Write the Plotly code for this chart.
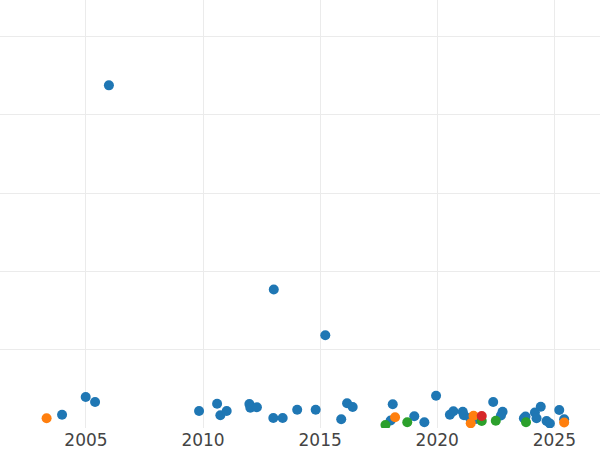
import plotly.graph_objects as go

# Blue series
blue_x = [2003.98, 2004.99, 2005.39, 2005.98, 2009.83, 2010.60, 2010.74, 2011.01,
          2011.98, 2012.02, 2012.30, 2013.00, 2013.40, 2014.02, 2014.81, 2015.90,
          2016.15, 2016.39, 2013.02, 2015.22, 2018.10, 2018.01, 2019.02, 2019.45,
          2019.95, 2020.54, 2020.69, 2021.09, 2021.14, 2021.40, 2021.65, 2022.39,
          2022.79, 2022.72, 2023.70, 2023.77, 2024.17, 2024.42, 2024.24, 2024.67,
          2024.81, 2025.21, 2025.42]
blue_y = [3.40, 7.92, 6.64, 87.5, 4.34, 6.21, 3.24, 4.34,
          6.10, 5.18, 5.29, 2.55, 2.55, 4.67, 4.67, 2.22,
          6.31, 5.36, 35.37, 23.68, 6.05, 1.92, 3.01, 1.46,
          8.22, 3.40, 4.27, 4.16, 3.27, 2.55, 2.30, 6.64,
          4.16, 3.19, 2.48, 2.94, 3.96, 5.44, 2.48, 1.79,
          1.15, 4.60, 2.22]

# Orange series
orange_x = [2003.32, 2018.20, 2021.55, 2021.43, 2025.42]
orange_y = [2.48, 2.73, 3.14, 1.20, 1.40]

# Green series
green_x = [2017.79, 2018.72, 2021.90, 2022.50, 2023.79]
green_y = [0.77, 1.46, 1.79, 1.86, 1.46]

# Red series
red_x = [2021.90]
red_y = [3.06]

x_ticks = [2005, 2010, 2015, 2020, 2025]

fig = go.Figure()
for xs, ys, col in [(blue_x, blue_y, "#1f77b4"), (orange_x, orange_y, "#ff7f0e"),
                    (green_x, green_y, "#2ca02c"), (red_x, red_y, "#d62728")]:
    fig.add_trace(go.Scatter(x=xs, y=ys, mode="markers",
                             marker=dict(color=col, size=10, line=dict(width=0)),
                             showlegend=False))

fig.update_layout(
    width=600, height=450,
    margin=dict(l=0, r=0, t=0, b=22),
    plot_bgcolor="white", paper_bgcolor="white",
    font=dict(family="DejaVu Sans", size=17, color="#444444"),
    showlegend=False,
)
fig.update_xaxes(range=[2001.33, 2026.95], tickvals=x_ticks,
                 ticktext=[str(t) for t in x_ticks],
                 showgrid=True, gridcolor="#ebebeb", gridwidth=1,
                 zeroline=False, showline=False, ticks="")
fig.update_yaxes(range=[0, 109.3], tick0=0, dtick=20,
                 showgrid=True, gridcolor="#ebebeb", gridwidth=1,
                 zeroline=False, showline=False, showticklabels=False, ticks="")

fig.write_html("out.html",
               config={"displayModeBar": False},
               post_script="document.body.style.margin='0';document.body.style.overflow='hidden';")
